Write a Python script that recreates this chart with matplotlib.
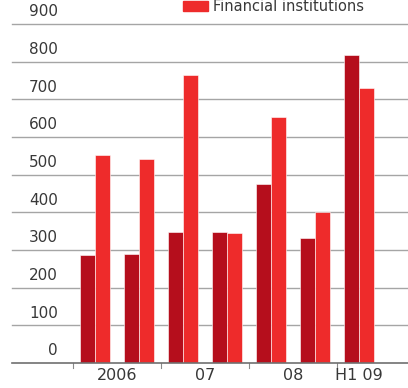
import numpy as np
import matplotlib
matplotlib.use("Agg")
import matplotlib.pyplot as plt
import matplotlib.patches as patches

# half-year periods, two series per period
periods = ["H1 06", "H2 06", "H1 07", "H2 07", "H1 08", "H2 08", "H1 09"]
corporates = [287, 290, 348, 347, 475, 332, 817]
financial = [552, 541, 764, 345, 653, 401, 731]
year_labels = ["2006", "07", "08", "H1 09"]
year_label_pos = [0.5, 2.5, 4.5, 6]
year_bounds = [-0.5, 1.5, 3.5, 5.5]
yticks = [0, 100, 200, 300, 400, 500, 600, 700, 800, 900]

dark_red = "#b50e1c"
light_red = "#ee2b2b"
grid_col = "#a5a5a5"

W, H = 408, 388
fig = plt.figure(figsize=(W / 100, H / 100), dpi=100)
ax = fig.add_axes([12 / W, (H - 363) / H, 1 - 12 / W, 339 / H])

x = np.arange(len(periods))
bw = 0.34
ax.bar(x - bw / 2, corporates, width=bw, color=dark_red, edgecolor="white", linewidth=0.4, zorder=3)
ax.bar(x + bw / 2, financial, width=bw, color=light_red, edgecolor="white", linewidth=0.4, zorder=3)

ax.set_xlim(-1.886, 7.114)
ax.set_ylim(0, 900)

for v in yticks[1:]:
    ax.axhline(v, color=grid_col, lw=1, zorder=1, clip_on=False)
ax.axhline(0, color="#707070", lw=1.2, zorder=4, clip_on=False)

for s in ax.spines.values():
    s.set_visible(False)
ax.set_xticks([])
ax.set_yticks([])

# value labels sit just above each gridline
for v in yticks:
    ax.text(0.116, v + 12, str(v), transform=ax.get_yaxis_transform(),
            ha="right", va="bottom", fontsize=11, color="#383838")

# year separators below the axis
for b in year_bounds:
    ax.plot([b, b], [0, -14], color="#8a8a8a", lw=0.8, clip_on=False)
for lab, p in zip(year_labels, year_label_pos):
    ax.text(p, -14, lab, ha="center", va="top", fontsize=11.5, color="#383838")

# legend entry at the top edge
fig.patches.append(patches.Rectangle((183 / W, (H - 11) / H), 25 / W, 10 / H,
                                     transform=fig.transFigure, color=light_red))
fig.text(213 / W, 1 - 11 / H, "Financial institutions", ha="left", va="baseline",
         fontsize=10.5, color="#383838")

fig.savefig("out.png", dpi=100, facecolor="white")
